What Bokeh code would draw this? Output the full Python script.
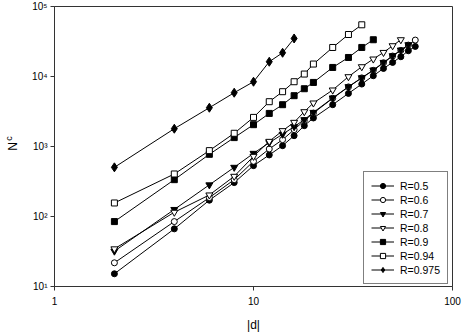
from bokeh.plotting import figure
from bokeh.models import FixedTicker, Legend, LegendItem, LogAxis
from bokeh.embed import file_html
from bokeh.resources import INLINE
import math

# ---- data ----
d_05 = [2, 4, 6, 8, 10, 12, 14, 16, 18, 20, 25, 30, 35, 40, 45, 50, 55, 60, 65]
n_05 = [15.2, 66.6, 171, 305, 533, 757, 1028, 1428, 1983, 2555, 3955, 5730, 7800,
        10250, 13030, 15880, 19140, 23320, 26870]

d_06 = [2, 4, 6, 8, 10, 12, 14, 16, 18, 20, 25, 30, 35, 40, 45, 50, 55, 60, 65]
n_06 = [21.8, 84.6, 186, 336, 614, 922, 1252, 1740, 2350, 3000, 4880, 7100, 9550,
        12250, 15700, 19600, 23600, 28100, 33150]

d_07 = [2, 4, 6, 8, 10, 12, 14, 16, 18, 20, 25, 30, 35, 40, 45, 50, 55, 60]
n_07 = [32, 126, 283, 504, 798, 1135, 1496, 1919, 2415, 3070, 4930, 7140, 9600,
        12370, 15880, 19780, 23860, 28400]

d_08 = [2, 4, 6, 8, 10, 12, 14, 16, 18, 20, 25, 30, 35, 40, 45, 50, 55]
n_08 = [34.5, 115, 203, 375, 723, 1184, 1683, 2213, 3140, 4180, 6410, 9930, 13780,
        17760, 22060, 27480, 33500]

d_09 = [2, 4, 6, 8, 10, 12, 14, 16, 18, 20, 25, 30, 35, 40]
n_09 = [84.6, 336, 773, 1340, 2050, 2970, 3955, 5320, 6690, 8230, 13470, 18700,
        26000, 33500]

d_094 = [2, 4, 6, 8, 10, 12, 14, 16, 18, 20, 25, 30, 35]
n_094 = [156, 405, 873, 1545, 2605, 4365, 6065, 8420, 10840, 15070, 25980, 39800,
         54800]

d_0975 = [2, 4, 6, 8, 10, 12, 14, 16]
n_0975 = [504, 1795, 3581, 5865, 8414, 16250, 21830, 34930]

series_labels = ["R=0.5", "R=0.6", "R=0.7", "R=0.8", "R=0.9", "R=0.94", "R=0.975"]

x_ticks = [1, 10, 100]
x_tick_labels = ["1", "10", "100"]
y_ticks = [10, 100, 1000, 10000, 100000]
y_tick_labels = ["10\u00b9", "10\u00b2", "10\u00b3", "10\u2074", "10\u2075"]

FONT = "Liberation Sans"
AXC = "#333333"

p = figure(x_axis_type="log", y_axis_type="log",
           x_range=(1, 100), y_range=(10, 100000),
           frame_width=398, frame_height=280,
           min_border_left=54, min_border_right=11,
           min_border_top=6, min_border_bottom=47,
           output_backend="svg", toolbar_location=None)
p.grid.visible = False
p.outline_line_color = AXC
p.outline_line_width = 1
p.background_fill_color = "white"
p.border_fill_color = "white"

xax = p.xaxis[0]
yax = p.yaxis[0]
for ax in (xax, yax):
    ax.axis_line_color = AXC
    ax.major_tick_line_color = AXC
    ax.major_tick_out = 4
    ax.major_tick_in = 0
    ax.minor_tick_out = 0
    ax.minor_tick_in = 0
    ax.major_label_text_font = FONT
    ax.major_label_text_font_size = "10px"
    ax.major_label_text_color = "black"
    ax.axis_label_text_font = FONT
    ax.axis_label_text_font_size = "12px"
    ax.axis_label_text_font_style = "normal"
    ax.axis_label_text_color = "black"

xax.ticker = FixedTicker(ticks=x_ticks, minor_ticks=[])
xax.major_label_overrides = dict(zip(x_ticks, x_tick_labels))
xax.major_label_standoff = 6
xax.axis_label = "|d|"
xax.axis_label_standoff = 10

yax.ticker = FixedTicker(ticks=y_ticks, minor_ticks=[])
yax.major_label_overrides = dict(zip(y_ticks, y_tick_labels))
yax.major_label_standoff = 3

# outer, line-less axis that carries the y title "N" with its subscript "c"
sub_at = 1400  # vertical place of the subscript letter
tax = LogAxis(ticker=FixedTicker(ticks=[sub_at], minor_ticks=[]),
              major_label_overrides={sub_at: "c"})
tax.axis_line_color = None
tax.major_tick_line_color = None
tax.minor_tick_line_color = None
tax.major_tick_out = 0
tax.major_tick_in = 0
tax.minor_tick_out = 0
tax.minor_tick_in = 0
tax.major_label_orientation = math.pi / 2
tax.major_label_standoff = 20
tax.major_label_text_font = FONT
tax.major_label_text_font_size = "9px"
tax.major_label_text_color = "black"
tax.axis_label = "N"
tax.axis_label_standoff = -23
tax.axis_label_text_font = FONT
tax.axis_label_text_font_size = "12px"
tax.axis_label_text_font_style = "normal"
tax.axis_label_text_color = "black"
p.add_layout(tax, "left")

specs = [
    (d_05, n_05, "circle", "black", 6),
    (d_06, n_06, "circle", "white", 6),
    (d_07, n_07, "inverted_triangle", "black", 7),
    (d_08, n_08, "inverted_triangle", "white", 7),
    (d_09, n_09, "square", "black", 6),
    (d_094, n_094, "square", "white", 6),
    (d_0975, n_0975, "diamond", "black", 9),
]

items = []
for (xs, ys, mk, fill, sz), lab in zip(specs, series_labels):
    r1 = p.line(xs, ys, line_color="black", line_width=1)
    r2 = p.scatter(xs, ys, marker=mk, size=sz, fill_color=fill,
                   line_color="black", line_width=1)
    items.append(LegendItem(label=lab, renderers=[r1, r2]))

legend = Legend(items=items, location=(309, 2))
legend.label_text_font = FONT
legend.label_text_font_size = "10.5px"
legend.label_text_color = "black"
legend.glyph_width = 23
legend.glyph_height = 13
legend.label_height = 13
legend.label_standoff = 6
legend.spacing = 1
legend.padding = 7
legend.margin = 0
legend.border_line_color = "black"
legend.border_line_width = 1
legend.background_fill_color = "white"
legend.background_fill_alpha = 1
p.add_layout(legend)

open("out.html", "w").write(file_html(p, INLINE))
